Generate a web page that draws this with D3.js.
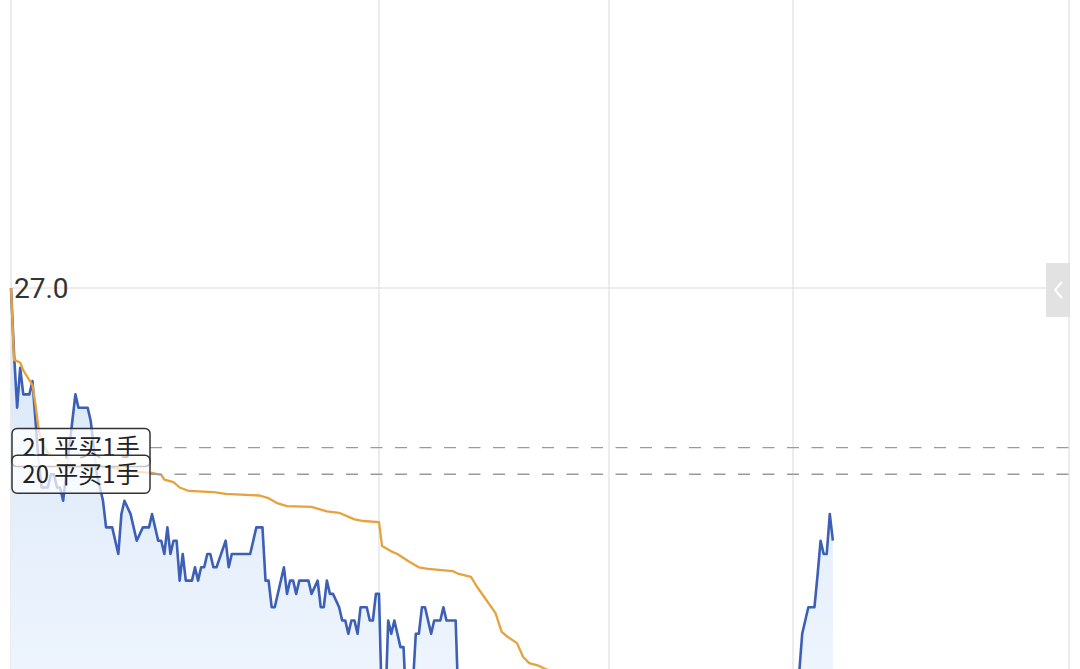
<!doctype html>
<html>
<head>
<meta charset="utf-8">
<script src="https://d3js.org/d3.v7.min.js"></script>
<style>
body { margin:0; background:#fff; }
svg { display:block; }
</style>
</head>
<body>
<script>
var W = 1080, H = 669;

// trading sessions in minutes (night 120, then 75, 60, 90)
var sessionBreaks = [0, 120, 195, 255, 345];

// last price (blue), minute index and price
var blueMin = [0,1,2,3,4,5,6,7,8,9,10,11,12,13,14,15,16,17,18,19,20,21,22,23,24,25,26,27,28,29,30,
  31,33,35,36,37,39,41,43,45,46,48,49,50,51,52,53,54,55,56,57,59,60,61,62,63,64,65,66,67,70,71,72,
  78,80,82,83,84,85,86,89,90,91,92,93,94,97,98,100,101,102,103,104,105,107,108,109,110,111,112,113,
  114,116,117,118,119,120,121,122,123,124,125,126,127,128,129,130,131,132,133,134,135,137,138,140,
  141,142,145,146,180,220,256,257,258,259,260,261,262,263,264,265,266,267,268];
var bluePrice = [27,24.5,22.5,24,23,23,23,23.5,22,20.5,19.5,19.5,19.5,20,20,19.5,19.5,19,20,21,22,23,
  22.5,22.5,22.5,22.5,22,21,20,19.5,19,
  18,18,17,18.5,19,18.5,17.5,18,18,18.5,17.5,17.5,17,18,17,17.5,17.5,16,17,16,16,16.5,16,16.5,16.5,17,17,16.5,16.5,17.5,16.5,17,
  17,18,18,16,16,15,15,16.5,15.5,16,16,15.5,16,16,15.5,16,15,15,16,15.5,15.5,15,14.5,14.5,14,14.5,14.5,14,
  15,15,14.5,14.5,15.5,15.5,11,11,14.5,14,14.5,14,13.5,13.5,11,11,12,14,14,15,15,14,14.5,14.5,
  15,14.5,14.5,11,10.5,10.5,11,12.5,14,14.5,15,15,15,16.2,17.5,17,17,18.5,17.5];

// average price (orange)
var avgMin = [0,1,3,4,7,8,9,10,12,15,20,30,40,42,46,49,50,53,55,58,66,70,81,84,87,90,98,103,107,112,115,120,
  121,124,126,130,133,136,144,146,150,152,155,158,160,162,165,167,169,172,175,268];
var avgPrice = [27,24.3,24.2,23.9,23.35,22.6,21.7,21.2,20.8,20.5,20.4,20.3,20.1,20.08,20.05,19.97,19.8,19.7,19.5,19.37,19.33,19.26,19.2,19.1,18.9,18.8,18.77,18.6,18.55,18.3,18.24,18.2,
  17.3,17.1,17.0,16.7,16.5,16.44,16.36,16.25,16.14,15.76,15.27,14.78,14.07,13.88,13.65,13.13,12.9,12.8,12.64,12.0];

var priceTicks = [27.0];
var orderPrices = [21, 20];
var orderLabels = ['21 平买1手', '20 平买1手'];

var blue = blueMin.map(function(m, i){ return {m:m, p:bluePrice[i]}; });
var avg = avgMin.map(function(m, i){ return {m:m, p:avgPrice[i]}; });

var x = d3.scaleLinear().domain([0, 345]).range([11, 1069]);
var y = d3.scaleLinear().domain([12.677, 37.827]).range([H, 0]);

var svg = d3.select('body').append('svg').attr('width', W).attr('height', H);

var grad = svg.append('defs').append('linearGradient').attr('id','fillGrad')
  .attr('gradientUnits','userSpaceOnUse').attr('x1',0).attr('y1',y(27)).attr('x2',0).attr('y2',H);
grad.append('stop').attr('offset','0%').attr('stop-color','#d8e6f8');
grad.append('stop').attr('offset','100%').attr('stop-color','#edf4fd');

// grid
svg.append('g').selectAll('line').data(sessionBreaks).enter().append('line')
  .attr('x1', function(d){ return x(d); }).attr('x2', function(d){ return x(d); })
  .attr('y1', 0).attr('y2', H)
  .style('stroke', '#e2e2e2').style('stroke-width', 1.3);

svg.append('g').selectAll('line').data(priceTicks).enter().append('line')
  .attr('x1', x(0)).attr('x2', x(345))
  .attr('y1', function(d){ return y(d); }).attr('y2', function(d){ return y(d); })
  .style('stroke', '#e6e6e6').style('stroke-width', 1.3);

// area + lines
var area = d3.area().x(function(d){ return x(d.m); }).y0(H).y1(function(d){ return y(d.p); });
svg.append('path').attr('d', area(blue)).style('fill', 'url(#fillGrad)');

var line = d3.line().x(function(d){ return x(d.m); }).y(function(d){ return y(d.p); });
svg.append('path').attr('d', line(blue))
  .style('fill','none').style('stroke','#3d5fb5').style('stroke-width', 2.6).style('stroke-linejoin','round');
svg.append('path').attr('d', line(avg))
  .style('fill','none').style('stroke','#e6a23c').style('stroke-width', 2.3).style('stroke-linejoin','round');

// price label
svg.append('text').attr('x', 14).attr('y', y(27) + 10)
  .text(d3.format('.1f')(priceTicks[0]))
  .style('font-family','Roboto, sans-serif').style('font-size','28px').style('fill','#333');

// order lines
svg.append('g').selectAll('line').data(orderPrices).enter().append('line')
  .attr('x1', 150).attr('x2', x(345))
  .attr('y1', function(d){ return y(d); }).attr('y2', function(d){ return y(d); })
  .style('stroke','#9a9a9a').style('stroke-width', 1.4).style('stroke-dasharray','12,12.5');

var tags = svg.append('g').selectAll('g').data(orderPrices).enter().append('g');
tags.append('rect')
  .attr('x', 12).attr('y', function(d){ return y(d) - 19; })
  .attr('width', 138).attr('height', 38).attr('rx', 5)
  .style('fill','rgba(255,255,255,0.72)').style('stroke','#333').style('stroke-width', 1.5);
tags.append('text')
  .attr('x', 81).attr('y', function(d){ return y(d) + 8.5; })
  .attr('text-anchor','middle')
  .text(function(d, i){ return orderLabels[i]; })
  .style('font-family','"Noto Sans CJK SC", sans-serif').style('font-size','24px').style('fill','#222');

// side tab
svg.append('rect').attr('x', 1046).attr('y', 263).attr('width', 24).attr('height', 54)
  .style('fill','#e2e2e2');
svg.append('path').attr('d','M1062,282 L1055,290 L1062,298')
  .style('fill','none').style('stroke','#fff').style('stroke-width', 2);
</script>
</body>
</html>
